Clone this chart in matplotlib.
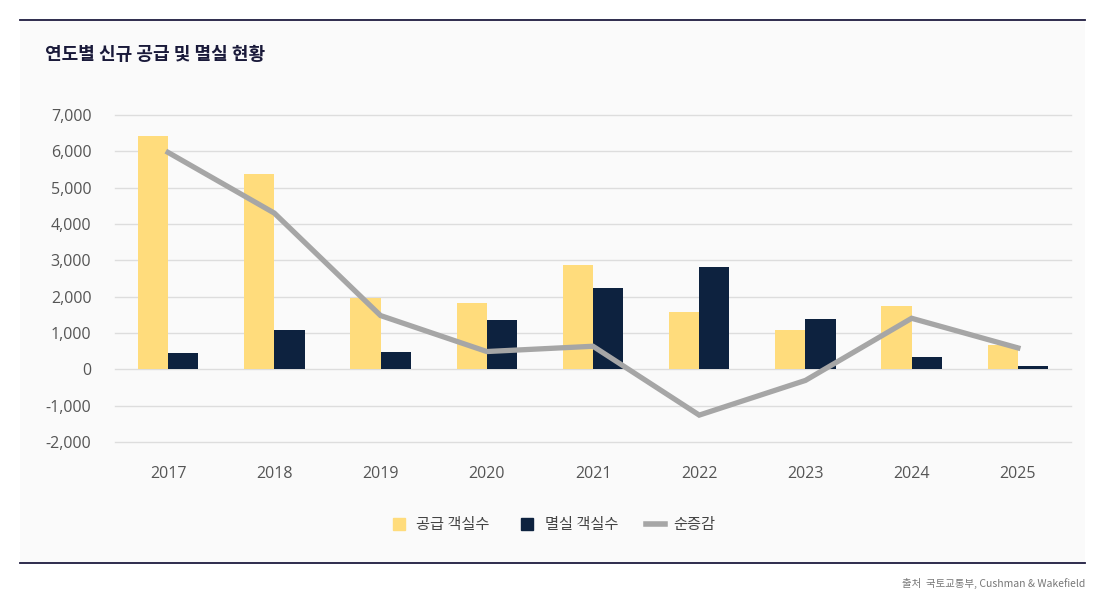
import matplotlib
matplotlib.use("Agg")
import matplotlib.pyplot as plt
from matplotlib.patches import Rectangle
from matplotlib.lines import Line2D
import numpy as np

plt.rcParams['font.family'] = ['Noto Sans CJK KR', 'DejaVu Sans']

years = ['2017', '2018', '2019', '2020', '2021', '2022', '2023', '2024', '2025']
supply = [6430, 5370, 1970, 1830, 2885, 1570, 1075, 1745, 670]
demolition = [460, 1075, 490, 1345, 2250, 2830, 1380, 340, 80]
net = [5970, 4300, 1480, 490, 635, -1260, -305, 1405, 590]
yticks = [-2000, -1000, 0, 1000, 2000, 3000, 4000, 5000, 6000, 7000]

YELLOW = '#FFDC7C'
NAVY = '#0D223F'
GRAY = '#A6A6A6'
W, H = 1104, 603

fig = plt.figure(figsize=(W / 100, H / 100), dpi=100)
fig.patch.set_facecolor('white')

# panel background
fig.patches.append(Rectangle((20 / W, 1 - 563 / H), 1065 / W, 543 / H,
                             transform=fig.transFigure, facecolor='#FAFAFA',
                             edgecolor='none', zorder=-10))
for yy in (20, 563):
    fig.lines.append(Line2D([20 / W, 1085 / W], [1 - yy / H, 1 - yy / H],
                            transform=fig.transFigure, color='#1E1B3F', lw=1.3,
                            zorder=-5))

ax = fig.add_axes([115 / W, 161 / H, (1071 - 115) / W, 327 / H])
ax.set_zorder(5)
ax.set_facecolor('none')
x = np.arange(len(years))
bw = 0.285
ax.bar(x - bw / 2, supply, bw, color=YELLOW, label='공급 객실수', zorder=2)
ax.bar(x + bw / 2, demolition, bw, color=NAVY, label='멸실 객실수', zorder=2)
ax.plot(x, net, color=GRAY, lw=3.8, label='순증감', zorder=3, solid_joinstyle='miter')

ax.set_xlim(-0.5, len(years) - 0.5)
ax.set_ylim(-2000, 7000)
ax.set_yticks(yticks)
ax.set_yticklabels([f'{v:,}' for v in yticks])
ax.set_xticks(x)
ax.set_xticklabels(years)
ax.grid(axis='y', color='#DDDDDD', lw=1, zorder=0)
for gl in ax.get_ygridlines():
    gl.set_clip_on(False)
for s in ax.spines.values():
    s.set_visible(False)
ax.tick_params(axis='both', length=0, labelsize=11.5, colors='#555555')
ax.tick_params(axis='y', pad=17)
ax.tick_params(axis='x', pad=17)
for lab in ax.get_xticklabels() + ax.get_yticklabels():
    lab.set_fontfamily(['Open Sans', 'DejaVu Sans'])

fig.text(45 / W, 1 - 55 / H, '연도별 신규 공급 및 멸실 현황', fontsize=13,
         fontweight='bold', color='#1A1A3A', va='center', ha='left')

handles = [Line2D([], [], marker='s', ls='none', markersize=8, color=YELLOW),
           Line2D([], [], marker='s', ls='none', markersize=8, color=NAVY),
           Line2D([], [], color=GRAY, lw=4)]
leg = fig.legend(handles, ['공급 객실수', '멸실 객실수', '순증감'], ncol=3,
                 loc='center', bbox_to_anchor=(552 / W, 1 - 525 / H),
                 frameon=False, fontsize=11, handlelength=1.3,
                 columnspacing=1.8, handletextpad=0.5)
for t in leg.get_texts():
    t.set_color('#444444')

fig.text(1085 / W, 1 - 583 / H, '출처  국토교통부, Cushman & Wakefield',
         fontsize=7.5, color='#777777', ha='right', va='center')

fig.savefig('out.png', dpi=100, facecolor='white')
